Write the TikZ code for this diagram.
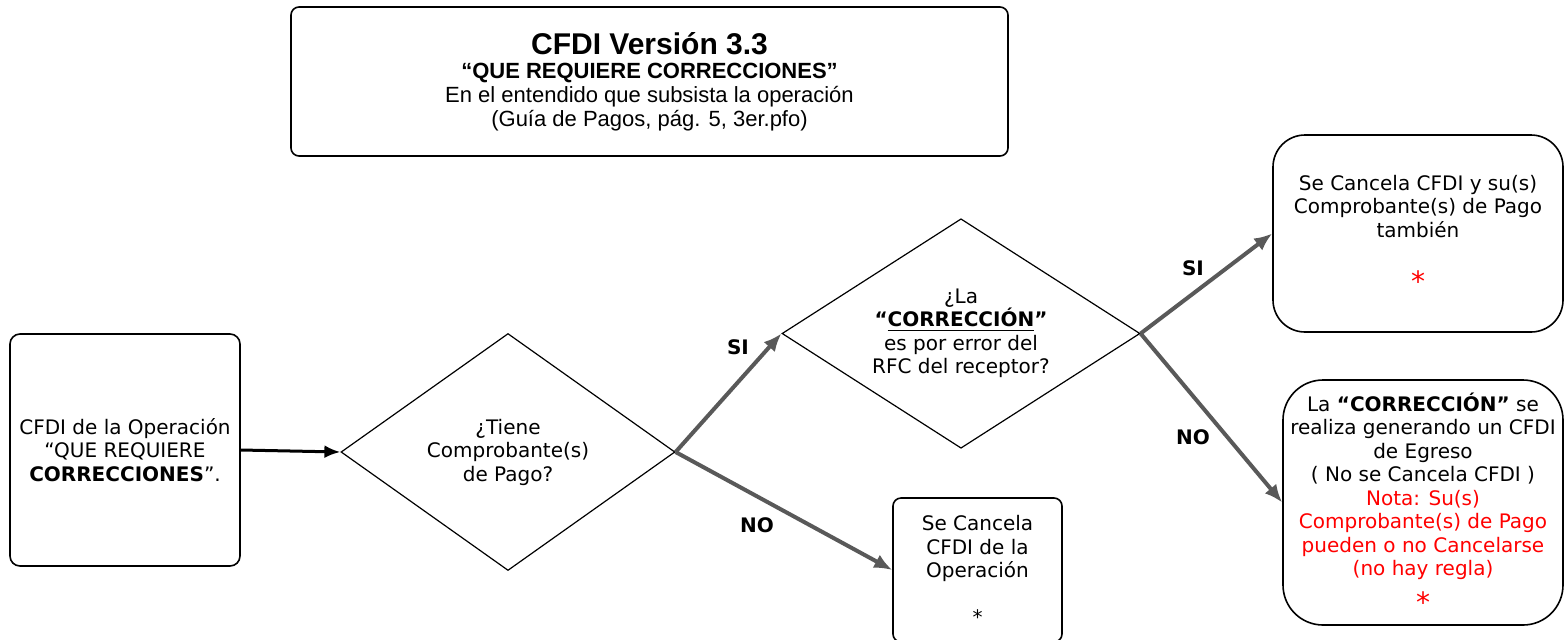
\documentclass[tikz,border=0pt]{standalone}
\usepackage{fontspec}
\setmainfont{DejaVu Sans}
\newfontfamily\titlefont{Liberation Sans}
\usepackage{tikz}
\usetikzlibrary{arrows.meta,shapes,positioning}
\definecolor{arrowgray}{RGB}{89,89,89}
\tikzstyle{box}=[draw=black,line width=0.8pt,align=center,inner sep=0pt]
\tikzstyle{decision}=[diamond,draw=black,line width=0.6pt,align=center,inner sep=0pt]
\tikzstyle{branch}=[draw=arrowgray,line width=2pt,-{Latex[length=9pt,width=7.5pt]}]
\tikzstyle{answer}=[font=\bfseries]

\begin{document}
\begin{tikzpicture}[x=0.5pt,y=-0.5pt,font=\fontsize{10}{11.75}\selectfont]

\useasboundingbox (0,0) rectangle (1565,639);

% % % % % % % % % % % % % % %

\node[box,rounded corners=4pt,minimum width=358.5pt,minimum height=74.5pt,
      font=\titlefont\fontsize{11}{12}\selectfont] (titulo) at (649.5,81.5)
 {{\fontsize{15}{17}\selectfont\bfseries CFDI Versión 3.3}\\
  \textbf{“QUE REQUIERE CORRECCIONES”}\\
  En el entendido que subsista la operación\\
  (Guía de Pagos, pág. 5, 3er.pfo)};

\node[box,rounded corners=5pt,minimum width=115pt,minimum height=116pt] (cfdi) at (125,450)
 {CFDI de la Operación\\“QUE REQUIERE\\\textbf{CORRECCIONES}”.};

\node[decision,minimum width=167pt,minimum height=118.5pt,aspect=1.41] (tiene) at (508,452)
 {¿Tiene\\Comprobante(s)\\de Pago?};

\node[decision,minimum width=179pt,minimum height=114.75pt,aspect=1.56] (error) at (961,333.5)
 {¿La\\\textbf{“\underline{CORRECCIÓN}”}\\es por error del\\RFC del receptor?};

\node[box,rounded corners=4pt,minimum width=84.5pt,minimum height=72pt] (cancela) at (977.5,570)
 {Se Cancela\\CFDI de la\\Operación\\[11.5pt]*};

\node[box,rounded corners=16pt,minimum width=145pt,minimum height=98.5pt] (ambos) at (1418,233.5)
 {Se Cancela CFDI y su(s)\\Comprobante(s) de Pago\\también\\[15.5pt]
  \textcolor{red}{\fontsize{14}{14}\selectfont *}};

\node[box,rounded corners=20pt,minimum width=140pt,minimum height=122.5pt] (regla) at (1423,502.5)
 {La \textbf{“CORRECCIÓN”} se\\realiza generando un CFDI\\de Egreso\\( No se Cancela CFDI )\\
  \textcolor{red}{Nota: Su(s)}\\\textcolor{red}{Comprobante(s) de Pago}\\
  \textcolor{red}{pueden o no Cancelarse}\\\textcolor{red}{(no hay regla)}\\[5pt]
  \textcolor{red}{\fontsize{14}{14}\selectfont *}};

% % % % % % % % % % % % % % %

\draw[line width=1.5pt,-{Latex[length=8pt,width=6.5pt]}] (cfdi.east) -- (tiene.west);
\draw[branch] (tiene.east) -- (error.west);
\draw[branch] (tiene.east) -- (cancela.west);
\draw[branch] (error.east) -- (ambos.west);
\draw[branch] (error.east) -- (regla.west);

\node[answer] (si1) at (738,347) {SI};
\node[answer] (no1) at (757,525) {NO};
\node[answer] (si2) at (1193,268) {SI};
\node[answer] (no2) at (1193,437) {NO};

\end{tikzpicture}
\end{document}
